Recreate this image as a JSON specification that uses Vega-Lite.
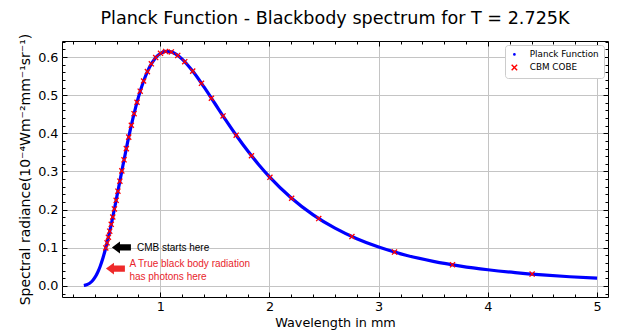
{
  "$schema": "https://vega.github.io/schema/vega-lite/v6.json",
  "width": 546,
  "height": 256,
  "autosize": {"type": "none"},
  "padding": {"left": 62, "top": 41, "right": 10, "bottom": 36},
  "background": "white",
  "title": {"text": "Planck Function - Blackbody spectrum for T = 2.725K", "fontSize": 17.6, "font": "DejaVu Sans", "fontWeight": "normal", "color": "black", "anchor": "middle", "offset": 6},
  "config": {
    "view": {"stroke": "black", "strokeWidth": 1},
    "axis": {"labelFont": "DejaVu Sans", "titleFont": "DejaVu Sans", "labelFontSize": 12.8, "titleFontSize": 12.8, "titleFontWeight": "normal", "labelColor": "black", "titleColor": "black", "tickColor": "black", "domain": false, "gridColor": "#c4c4c4", "gridWidth": 1, "tickWidth": 1},
    "legend": {"labelFont": "DejaVu Sans", "labelFontSize": 8.8, "labelColor": "black"}
  },
  "datasets": {
    "planck": [
      {"lam": 0.3, "B": 0.00112}, {"lam": 0.325, "B": 0.00289}, {"lam": 0.35, "B": 0.00637}, {"lam": 0.375, "B": 0.01232},
      {"lam": 0.4, "B": 0.02151}, {"lam": 0.425, "B": 0.03454}, {"lam": 0.45, "B": 0.05174}, {"lam": 0.475, "B": 0.07323},
      {"lam": 0.5, "B": 0.09879}, {"lam": 0.55, "B": 0.16019}, {"lam": 0.6, "B": 0.23077}, {"lam": 0.65, "B": 0.30431},
      {"lam": 0.7, "B": 0.3755}, {"lam": 0.75, "B": 0.4399}, {"lam": 0.8, "B": 0.4949}, {"lam": 0.85, "B": 0.53916},
      {"lam": 0.9, "B": 0.57261}, {"lam": 0.95, "B": 0.5957}, {"lam": 1.0, "B": 0.60934}, {"lam": 1.05, "B": 0.61479},
      {"lam": 1.1, "B": 0.61337}, {"lam": 1.15, "B": 0.60632}, {"lam": 1.2, "B": 0.59468}, {"lam": 1.3, "B": 0.56182},
      {"lam": 1.4, "B": 0.52153}, {"lam": 1.5, "B": 0.47819}, {"lam": 1.6, "B": 0.43477}, {"lam": 1.7, "B": 0.39313},
      {"lam": 1.8, "B": 0.35414}, {"lam": 1.9, "B": 0.31837}, {"lam": 2.0, "B": 0.28586}, {"lam": 2.2, "B": 0.23048},
      {"lam": 2.4, "B": 0.18632}, {"lam": 2.6, "B": 0.15137}, {"lam": 2.8, "B": 0.12371}, {"lam": 3.0, "B": 0.1018},
      {"lam": 3.25, "B": 0.08054}, {"lam": 3.5, "B": 0.06439}, {"lam": 3.75, "B": 0.05198}, {"lam": 4.0, "B": 0.04238},
      {"lam": 4.25, "B": 0.03485}, {"lam": 4.5, "B": 0.02889}, {"lam": 4.75, "B": 0.02414}, {"lam": 5.0, "B": 0.02032}
    ],
    "cobe": [
      {"lam": 4.405, "B": 0.03099, "series": "CBM COBE"}, {"lam": 3.676, "B": 0.05531, "series": "CBM COBE"},
      {"lam": 3.145, "B": 0.08878, "series": "CBM COBE"}, {"lam": 2.755, "B": 0.1294, "series": "CBM COBE"},
      {"lam": 2.451, "B": 0.17659, "series": "CBM COBE"}, {"lam": 2.203, "B": 0.22982, "series": "CBM COBE"},
      {"lam": 2.004, "B": 0.28463, "series": "CBM COBE"}, {"lam": 1.835, "B": 0.34132, "series": "CBM COBE"},
      {"lam": 1.695, "B": 0.39511, "series": "CBM COBE"}, {"lam": 1.575, "B": 0.44561, "series": "CBM COBE"},
      {"lam": 1.468, "B": 0.49196, "series": "CBM COBE"}, {"lam": 1.377, "B": 0.53104, "series": "CBM COBE"},
      {"lam": 1.297, "B": 0.56304, "series": "CBM COBE"}, {"lam": 1.224, "B": 0.58784, "series": "CBM COBE"},
      {"lam": 1.16, "B": 0.60429, "series": "CBM COBE"}, {"lam": 1.101, "B": 0.61331, "series": "CBM COBE"},
      {"lam": 1.049, "B": 0.61476, "series": "CBM COBE"}, {"lam": 1.002, "B": 0.60976, "series": "CBM COBE"},
      {"lam": 0.958, "B": 0.59852, "series": "CBM COBE"}, {"lam": 0.918, "B": 0.58221, "series": "CBM COBE"},
      {"lam": 0.882, "B": 0.56173, "series": "CBM COBE"}, {"lam": 0.847, "B": 0.53722, "series": "CBM COBE"},
      {"lam": 0.816, "B": 0.51056, "series": "CBM COBE"}, {"lam": 0.787, "B": 0.48138, "series": "CBM COBE"},
      {"lam": 0.76, "B": 0.45158, "series": "CBM COBE"}, {"lam": 0.735, "B": 0.42118, "series": "CBM COBE"},
      {"lam": 0.711, "B": 0.39003, "series": "CBM COBE"}, {"lam": 0.689, "B": 0.35992, "series": "CBM COBE"},
      {"lam": 0.668, "B": 0.33056, "series": "CBM COBE"}, {"lam": 0.648, "B": 0.30161, "series": "CBM COBE"},
      {"lam": 0.63, "B": 0.27456, "series": "CBM COBE"}, {"lam": 0.612, "B": 0.24841, "series": "CBM COBE"},
      {"lam": 0.596, "B": 0.22437, "series": "CBM COBE"}, {"lam": 0.58, "B": 0.20193, "series": "CBM COBE"},
      {"lam": 0.565, "B": 0.18067, "series": "CBM COBE"}, {"lam": 0.551, "B": 0.16149, "series": "CBM COBE"},
      {"lam": 0.537, "B": 0.14357, "series": "CBM COBE"}, {"lam": 0.525, "B": 0.12757, "series": "CBM COBE"},
      {"lam": 0.513, "B": 0.11304, "series": "CBM COBE"}, {"lam": 0.501, "B": 0.09961, "series": "CBM COBE"}
    ],
    "notes": [
      {"lam": 0.787, "B": 0.1, "label": "CMB starts here", "group": "cmb"},
      {"lam": 0.717, "B": 0.057, "label": "A True black body radiation", "group": "true"},
      {"lam": 0.717, "B": 0.0244, "label": "has photons here", "group": "true"}
    ],
    "arrows": [
      {"lam": 0.644, "B": 0.101, "group": "cmb"},
      {"lam": 0.589, "B": 0.0454, "group": "true"}
    ]
  },
  "layer": [
    {
      "data": {"name": "planck"},
      "mark": {"type": "line", "color": "#0000ff", "strokeWidth": 3.2, "interpolate": "monotone"},
      "encoding": {
        "x": {"field": "lam", "type": "quantitative", "scale": {"domain": [0.1, 5.1], "nice": false, "zero": false},
              "axis": {"orient": "bottom", "values": [1, 2, 3, 4, 5], "format": "d", "grid": true, "tickSize": -5, "labelPadding": 8, "title": "Wavelength in mm", "titlePadding": 4}},
        "y": {"field": "B", "type": "quantitative", "scale": {"domain": [-0.029, 0.642], "nice": false, "zero": false},
              "axis": {"orient": "left", "values": [0, 0.1, 0.2, 0.3, 0.4, 0.5, 0.6], "format": ".1f", "grid": true, "tickSize": -5, "labelPadding": 9, "title": "Spectral radiance(10⁻⁴Wm⁻²mm⁻¹sr⁻¹)", "titlePadding": 5, "titleFontSize": 14}}
      }
    },
    {
      "data": {"name": "cobe"},
      "mark": {"type": "point", "filled": false, "strokeWidth": 1.3, "size": 26, "opacity": 1},
      "encoding": {
        "x": {"field": "lam", "type": "quantitative", "scale": {"domain": [0.1, 5.1], "nice": false, "zero": false},
              "axis": {"orient": "top", "values": [1, 2, 3, 4, 5], "labels": false, "grid": false, "tickSize": -5, "title": null}},
        "y": {"field": "B", "type": "quantitative", "scale": {"domain": [-0.029, 0.642], "nice": false, "zero": false},
              "axis": {"orient": "right", "values": [0, 0.1, 0.2, 0.3, 0.4, 0.5, 0.6], "labels": false, "grid": false, "tickSize": -5, "title": null}},
        "color": {"field": "series", "type": "nominal", "scale": {"domain": ["Planck Function", "CBM COBE"], "range": ["#0000ff", "#ff0000"]},
                  "legend": {"title": null, "orient": "top-right", "offset": 4, "padding": 5, "fillColor": "white", "strokeColor": "#cccccc", "cornerRadius": 3, "symbolSize": 30, "symbolStrokeWidth": 1.4, "labelOffset": 11, "rowPadding": 1}},
        "shape": {"field": "series", "type": "nominal", "scale": {"domain": ["Planck Function", "CBM COBE"], "range": ["M0,-0.25A0.25,0.25 0 1,1 0,0.25A0.25,0.25 0 1,1 0,-0.25Z", "M-1,-1L1,1M1,-1L-1,1"]}}
      }
    },
    {
      "data": {"name": "notes"},
      "transform": [{"filter": "datum.group === 'cmb'"}],
      "mark": {"type": "text", "align": "left", "baseline": "middle", "font": "Liberation Sans", "fontSize": 10, "color": "black"},
      "encoding": {
        "x": {"field": "lam", "type": "quantitative", "scale": {"domain": [0.1, 5.1], "nice": false, "zero": false},
              "axis": {"orient": "bottom", "values": [0.2, 0.4, 0.6, 0.8, 1.0, 1.2, 1.4, 1.6, 1.8, 2.0, 2.2, 2.4, 2.6, 2.8, 3.0, 3.2, 3.4, 3.6, 3.8, 4.0, 4.2, 4.4, 4.6, 4.8, 5.0], "labels": false, "grid": false, "tickSize": -3, "title": null}},
        "y": {"field": "B", "type": "quantitative", "scale": {"domain": [-0.029, 0.642], "nice": false, "zero": false},
              "axis": {"orient": "left", "values": [-0.02, 0, 0.02, 0.04, 0.06, 0.08, 0.1, 0.12, 0.14, 0.16, 0.18, 0.2, 0.22, 0.24, 0.26, 0.28, 0.3, 0.32, 0.34, 0.36, 0.38, 0.4, 0.42, 0.44, 0.46, 0.48, 0.5, 0.52, 0.54, 0.56, 0.58, 0.6, 0.62, 0.64], "labels": false, "grid": false, "tickSize": -3, "title": null}},
        "text": {"field": "label"}
      }
    },
    {
      "data": {"name": "notes"},
      "transform": [{"filter": "datum.group === 'true'"}],
      "mark": {"type": "text", "align": "left", "baseline": "middle", "font": "Liberation Sans", "fontSize": 10, "color": "#e8242b"},
      "encoding": {
        "x": {"field": "lam", "type": "quantitative", "scale": {"domain": [0.1, 5.1], "nice": false, "zero": false},
              "axis": {"orient": "top", "values": [0.2, 0.4, 0.6, 0.8, 1.0, 1.2, 1.4, 1.6, 1.8, 2.0, 2.2, 2.4, 2.6, 2.8, 3.0, 3.2, 3.4, 3.6, 3.8, 4.0, 4.2, 4.4, 4.6, 4.8, 5.0], "labels": false, "grid": false, "tickSize": -3, "title": null}},
        "y": {"field": "B", "type": "quantitative", "scale": {"domain": [-0.029, 0.642], "nice": false, "zero": false},
              "axis": {"orient": "right", "values": [-0.02, 0, 0.02, 0.04, 0.06, 0.08, 0.1, 0.12, 0.14, 0.16, 0.18, 0.2, 0.22, 0.24, 0.26, 0.28, 0.3, 0.32, 0.34, 0.36, 0.38, 0.4, 0.42, 0.44, 0.46, 0.48, 0.5, 0.52, 0.54, 0.56, 0.58, 0.6, 0.62, 0.64], "labels": false, "grid": false, "tickSize": -3, "title": null}},
        "text": {"field": "label"}
      }
    },
    {
      "data": {"name": "arrows"},
      "transform": [{"filter": "datum.group === 'cmb'"}],
      "mark": {"type": "point", "shape": "M-1,0L-0.15,-0.63L-0.15,-0.33L1,-0.33L1,0.33L-0.15,0.33L-0.15,0.63Z", "filled": true, "size": 361, "color": "black", "opacity": 1, "strokeWidth": 0},
      "encoding": {
        "x": {"field": "lam", "type": "quantitative", "scale": {"domain": [0.1, 5.1], "nice": false, "zero": false}, "axis": null},
        "y": {"field": "B", "type": "quantitative", "scale": {"domain": [-0.029, 0.642], "nice": false, "zero": false}, "axis": null}
      }
    },
    {
      "data": {"name": "arrows"},
      "transform": [{"filter": "datum.group === 'true'"}],
      "mark": {"type": "point", "shape": "M-1,0L-0.15,-0.63L-0.15,-0.33L1,-0.33L1,0.33L-0.15,0.33L-0.15,0.63Z", "filled": true, "size": 361, "color": "#ee2a2a", "opacity": 1, "strokeWidth": 0},
      "encoding": {
        "x": {"field": "lam", "type": "quantitative", "scale": {"domain": [0.1, 5.1], "nice": false, "zero": false}, "axis": null},
        "y": {"field": "B", "type": "quantitative", "scale": {"domain": [-0.029, 0.642], "nice": false, "zero": false}, "axis": null}
      }
    }
  ],
  "resolve": {"axis": {"x": "independent", "y": "independent"}}
}
